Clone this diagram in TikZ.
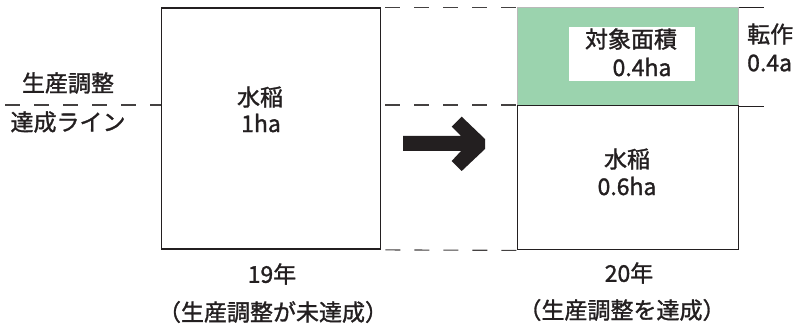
\documentclass[tikz,border=0pt]{standalone}
\usepackage{fontspec}
\setmainfont{Noto Sans CJK JP}[RawFeature={embolden=1.3}]
\definecolor{ink}{HTML}{231F20}
\definecolor{paddy}{HTML}{9BD3AE}
\begin{document}
\begin{tikzpicture}[x=1pt,y=-1pt,
  box/.style={draw=ink, line width=1.4pt, inner sep=0pt, anchor=north west},
  guide/.style={draw=ink!85, line width=1.1pt, dash pattern=on 15pt off 14pt},
  tick/.style={draw=ink, line width=1.2pt},
  lbl/.style={text=ink, font=\fontsize{23}{27}\selectfont, inner sep=0pt},
]
\useasboundingbox (0,0) rectangle (796,326);

% boxes
\node[box, minimum width=219pt, minimum height=241pt] (y19) at (161,7.5) {};
\node[box, draw=gray!55, line width=1pt, fill=paddy, minimum width=221pt, minimum height=98pt] (conv) at (517,7.5) {};
\node[box, minimum width=221pt, minimum height=144pt] (rice20) at (517,105) {};
\node[fill=white, inner sep=0pt, minimum width=126pt, minimum height=54pt, anchor=north west] (target) at (569,27) {};

% guide lines
\coordinate (lineL) at (5,105);
\draw[guide] (lineL) -- (y19.west |- rice20.north);
\draw[guide, dash phase=-4pt] (y19.east |- rice20.north) -- (rice20.north west);
\draw[guide, dash phase=-4pt] (y19.north east) -- (conv.north west);
\draw[guide, dash phase=-4pt] (y19.south east) -- (rice20.south west);
\draw[tick] (conv.north east) -- ++(25,0) coordinate (tickA);
\draw[tick] (conv.south east) -- ++(25,0) coordinate (tickB);

% arrow
\fill[ink] (403,136) -- (461,136) -- (451.7,126.7) -- (461.7,116.7) -- (485,139) -- (485,149)
  -- (461.7,171) -- (451.7,161) -- (461,151) -- (403,151) -- cycle;

% texts
\node[lbl] (lab1) at (68,83) {生産調整};
\node[lbl] (lab2) at (68,122) {達成ライン};
\node[lbl] (r19a) at (260,97) {水稲};
\node[lbl] (r19b) at (261,123) {1ha};
\node[lbl] (r20a) at (627,159) {水稲};
\node[lbl] (r20b) at (627,186) {0.6ha};
\node[lbl] (tga) at (631,39) {対象面積};
\node[lbl] (tgb) at (642,67) {0.4ha};
\node[lbl, anchor=west] (cva) at (747,34) {転作};
\node[lbl, anchor=west] (cvb) at (747,63) {0.4a};
\node[lbl] (yr19) at (272,274) {19年};
\node[lbl] (st19) at (273,312) {（生産調整が未達成）};
\node[lbl] (yr20) at (629,273) {20年};
\node[lbl] (st20) at (622,310) {（生産調整を達成）};
\end{tikzpicture}
\end{document}
